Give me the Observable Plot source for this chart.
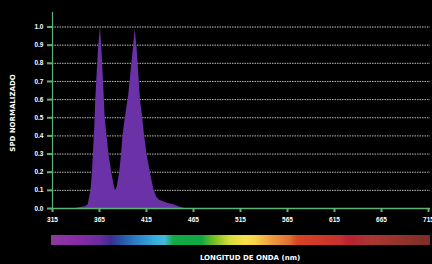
<!DOCTYPE html>
<html>
<head>
<meta charset="utf-8">
<script src="https://cdn.jsdelivr.net/npm/d3@7"></script>
<script src="https://cdn.jsdelivr.net/npm/@observablehq/plot@0.6"></script>
<style>
  html, body { margin: 0; padding: 0; background: #000; }
  #chart { width: 432px; height: 264px; overflow: hidden; }
</style>
</head>
<body>
<div id="chart"></div>
<script>
// ---- data ----
const wavelengths = [315, 340, 345, 350, 353, 356, 357.5, 358.5, 360, 361, 364, 366, 367.5, 370, 371, 375, 378, 380, 382, 384, 386.5, 388.5, 390, 392.5, 396, 401, 403, 405, 408.5, 410.5, 413, 415.5, 419, 423, 426, 429, 433, 438, 444, 450, 456, 715];
const spd =         [0,   0,   0.005, 0.01, 0.02, 0.1, 0.2, 0.3, 0.45, 0.6, 0.88, 1.0, 0.88, 0.62, 0.5, 0.3, 0.2, 0.14, 0.095, 0.12, 0.2, 0.3, 0.4, 0.5, 0.62, 0.88, 0.99, 0.88, 0.6, 0.52, 0.4, 0.3, 0.2, 0.1, 0.06, 0.045, 0.037, 0.028, 0.02, 0.008, 0, 0];
const xTicks = [315, 365, 415, 465, 515, 565, 615, 665, 715];
const yTicks = [0, 0.1, 0.2, 0.3, 0.4, 0.5, 0.6, 0.7, 0.8, 0.9, 1.0];
const gridTicks = [0.1, 0.2, 0.3, 0.4, 0.5, 0.6, 0.7, 0.8, 0.9, 1.0];
const spectrumStops  = [315, 339, 366, 378, 385, 403, 425, 435, 444, 474, 488, 504, 520, 531, 547, 568, 576, 621, 632, 656, 717];
const spectrumColors = ["#8e3a9c", "#8a2ba6", "#6d2aa0", "#3c2e8e", "#2a48a0", "#2a7cc4", "#38aee0", "#44b8d4", "#12a848", "#10a840", "#7cc024", "#d8dc38", "#f8e048", "#f8d448", "#f0a040", "#e07030", "#d84422", "#c83030", "#b82232", "#a83830", "#7e2c28"];
const xLabel = "LONGITUD DE ONDA (nm)";
const yLabel = "SPD NORMALIZADO";

const rows = wavelengths.map((w, i) => ({w, v: spd[i]}));
const green = "#5fb374";
const fill = "#6b31a6";

function spectrumBar(index, scales, values, dimensions) {
  const ns = "http://www.w3.org/2000/svg";
  const g = document.createElementNS(ns, "g");
  const x0 = scales.x(315) - 1;
  const x1 = scales.x(715) + 2;
  const yTop = dimensions.height - dimensions.marginBottom + 27;
  const defs = document.createElementNS(ns, "defs");
  const grad = document.createElementNS(ns, "linearGradient");
  grad.setAttribute("id", "spectrum");
  grad.setAttribute("gradientUnits", "userSpaceOnUse");
  grad.setAttribute("x1", x0);
  grad.setAttribute("x2", x1);
  grad.setAttribute("y1", 0);
  grad.setAttribute("y2", 0);
  spectrumStops.forEach((s, i) => {
    const st = document.createElementNS(ns, "stop");
    const off = Math.max(0, Math.min(1, (scales.x(s) - x0) / (x1 - x0)));
    st.setAttribute("offset", off);
    st.setAttribute("stop-color", spectrumColors[i]);
    grad.appendChild(st);
  });
  defs.appendChild(grad);
  g.appendChild(defs);
  const r = document.createElementNS(ns, "rect");
  r.setAttribute("x", x0);
  r.setAttribute("y", yTop);
  r.setAttribute("width", x1 - x0);
  r.setAttribute("height", 10);
  r.setAttribute("fill", "url(#spectrum)");
  g.appendChild(r);
  return g;
}

const plot = Plot.plot({
  width: 432,
  height: 264,
  marginLeft: 52,
  marginRight: 4,
  marginTop: 12,
  marginBottom: 56,
  style: {background: "#000", color: "#fff", fontFamily: "'Liberation Sans', Arial, sans-serif"},
  x: {domain: [315, 715]},
  y: {domain: [0, 1.08]},
  marks: [
    Plot.ruleY(gridTicks, {stroke: "#d8d8d8", strokeWidth: 1, strokeDasharray: "1.5,1", strokeOpacity: 0.85, insetRight: -2}),
    Plot.areaY(rows, {x: "w", y: "v", fill: fill}),
    Plot.ruleX([315], {y1: 0, y2: 1.08, stroke: green, strokeWidth: 1.2}),
    Plot.ruleY([0], {stroke: green, strokeWidth: 1.6, insetRight: -2}),
    Plot.axisX({ticks: xTicks, tickSize: 4, stroke: green, strokeWidth: 2, fill: "#fff", fontSize: 6.5, fontWeight: "bold", tickPadding: 5, label: null}),
    Plot.axisY({ticks: yTicks, tickSize: 5, stroke: green, strokeWidth: 2, fill: "#fff", fontSize: 6.5, fontWeight: "bold", tickPadding: 4, tickFormat: d3.format(".1f"), label: null}),
    spectrumBar,
    Plot.text([xLabel], {frameAnchor: "bottom", textAnchor: "middle", dx: 9.5, dy: 51, fill: "#fff", fontSize: 7, fontFamily: "'DejaVu Sans', sans-serif", fontWeight: "bold", letterSpacing: "0.7px"}),
    Plot.text([yLabel], {frameAnchor: "left", textAnchor: "middle", dx: -39.5, dy: 2.5, rotate: -90, fill: "#fff", fontSize: 7, fontFamily: "'DejaVu Sans', sans-serif", fontWeight: "bold", letterSpacing: "0.7px"})
  ]
});
document.getElementById("chart").appendChild(plot);
</script>
</body>
</html>
